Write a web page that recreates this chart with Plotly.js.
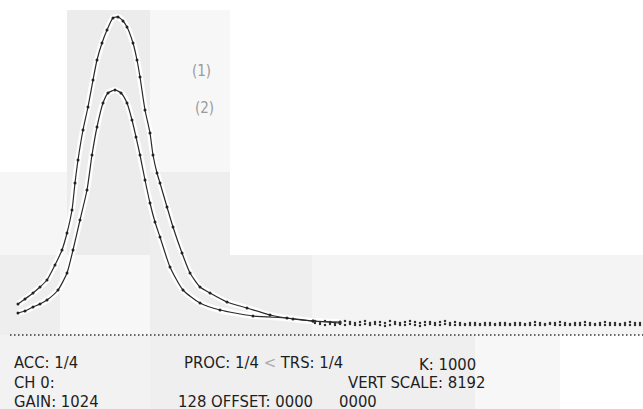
<!DOCTYPE html>
<html>
<head>
<meta charset="utf-8">
<script src="https://cdn.plot.ly/plotly-3.0.1.min.js"></script>
<style>html,body{margin:0;padding:0;background:#fff;}#chart{width:643px;height:409px;}</style>
</head>
<body>
<div id="chart"></div>
<script>
// Channel numbers and counts read from the display
const ch1 = [3,10,18,25,32,40,47,52,57,60,63,68,73,78,82,87,92,98,103,108,112,118,122,125,130,135,138,142,145,152,158,167,175,185,195,212,232,255,278,298,325];
const cnt1 = [450,575,725,875,1050,1425,1800,2225,2800,3475,4050,4800,5375,6050,6550,6975,7300,7600,7625,7525,7375,6975,6550,6125,5300,4725,4175,3725,3475,2875,2375,1725,1225,875,725,500,350,175,75,25,0];
const ch2 = [3,10,18,25,32,43,52,58,65,72,77,82,88,93,100,106,112,117,121,125,130,135,140,145,155,168,185,205,238,272,298,325];
const cnt2 = [225,275,375,450,550,800,1225,1800,2550,3300,4175,4875,5475,5725,5800,5725,5475,5050,4625,4175,3550,2975,2500,2125,1375,800,475,300,150,100,25,-25];
const tailCh = [300,305,310,315,320,325,330,335,340,345,350,355,360,365,370,375,380,385,390,395,400,405,410,415,420,425,430,435,440,445,450,455,460,465,470,475,480,485,490,495,500,505,510,515,520,525,530,535,540,545,550,555,560,565,570,575,580,585,590,595,600,605,610,615,620,625];
const tail1 = [25,0,25,0,-25,0,25,0,-25,0,25,-25,0,0,-25,25,0,-25,0,25,0,-25,0,0,-25,0,25,-25,0,-25,-50,-25,-25,-50,-25,-25,-50,-25,-25,-50,-25,-25,-50,-25,0,-25,-50,-25,-25,0,-25,-50,-25,-25,0,-25,-50,-25,0,-25,-25,-50,-25,0,-25,-25];
const tail2 = [-25,-50,-75,-50,-75,-50,-75,-50,-75,-75,-50,-75,-50,-75,-100,-75,-50,-75,-75,-50,-75,-100,-75,-50,-75,-75,-50,-75,-75,-75,-75,-75,-75,-75,-75,-75,-75,-75,-75,-75,-75,-75,-75,-75,-75,-75,-75,-50,-75,-75,-75,-75,-75,-75,-75,-75,-75,-75,-75,-75,-75,-75,-75,-75,-75,-75];
const baseCh = [-5, 628];
const baseCnt = [-325, -325];
const labels = ["(1)", "(2)"];
const labelCh = [186, 189];
const labelCnt = [6275, 5350];
const infoText = ["ACC: 1/4", "CH 0:", "GAIN: 1024", "PROC: 1/4 <span style=\"color:#aaa\">&lt;</span> TRS: 1/4", "K: 1000", "VERT SCALE: 8192", "128 OFFSET: 0000", "0000"];

const X = px => px / 643, Y = py => 1 - py / 409;
const infoPos = [[12,361.5],[12,382],[12,400.5],[182,361.5],[417,363.5],[346,382],[176,400.5],[337,400.5]];

const halo = {color:'#ffffff', width:6, shape:'spline', smoothing:0.6};
const ink = {color:'#2a2a2a', width:1.2, shape:'spline', smoothing:0.6};
const traces = [
  {x:ch1, y:cnt1, mode:'lines', line:halo, hoverinfo:'skip'},
  {x:ch2, y:cnt2, mode:'lines', line:halo, hoverinfo:'skip'},
  {x:ch1, y:cnt1, mode:'lines+markers', line:ink, marker:{size:3, color:'#222'}},
  {x:ch2, y:cnt2, mode:'lines+markers', line:ink, marker:{size:3, color:'#222'}},
  {x:tailCh, y:tail1, mode:'markers', marker:{size:2.5, color:'#333'}},
  {x:tailCh, y:tail2, mode:'markers', marker:{size:2.5, color:'#333'}},
  {x:baseCh, y:baseCnt, mode:'lines', line:{color:'#333', width:1.5, dash:'1.5px,2.5px'}}
];

const blocks = [
  [67,10,150,255,'#ececec'],[150,10,230,172,'#f7f7f7'],[0,172,67,255,'#f6f6f6'],[150,172,230,255,'#eeeeee'],
  [0,255,60,335,'#eeeeee'],[60,255,150,335,'#f7f7f7'],[150,255,312,335,'#eeeeee'],[312,255,643,335,'#f4f4f4'],
  [0,335,150,409,'#f2f2f2'],[150,335,475,409,'#efefef'],[475,335,560,409,'#f7f7f7']
];
const shapes = blocks.map(b => ({type:'rect', xref:'paper', yref:'paper', x0:X(b[0]), x1:X(b[2]), y0:Y(b[3]), y1:Y(b[1]), fillcolor:b[4], line:{width:0}, layer:'below'}));

const font = 'DejaVu Sans Condensed, Liberation Sans Narrow, sans-serif';
const annotations = infoText.map((t,i) => ({text:t, xref:'paper', yref:'paper', x:X(infoPos[i][0]), y:Y(infoPos[i][1]), xanchor:'left', yanchor:'middle', height:16, valign:'middle', showarrow:false, font:{family:font, size:16.5, color:'#1e1e1e'}}))
  .concat(labels.map((t,i) => ({text:t, x:labelCh[i], y:labelCnt[i], xref:'x', yref:'y', showarrow:false, font:{family:font, size:15, color:'#9a9a9a'}})));

const layout = {
  width:643, height:409, margin:{l:0,r:0,t:0,b:0},
  paper_bgcolor:'#ffffff', plot_bgcolor:'rgba(0,0,0,0)', showlegend:false,
  xaxis:{range:[-15,628], visible:false, fixedrange:true},
  yaxis:{range:[-2175,8050], visible:false, fixedrange:true},
  shapes:shapes, annotations:annotations
};
Plotly.newPlot('chart', traces, layout, {staticPlot:true, displayModeBar:false});
</script>
</body>
</html>
